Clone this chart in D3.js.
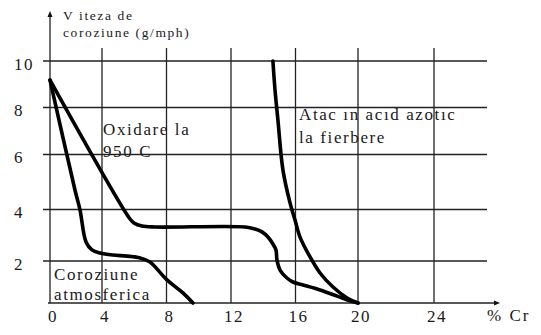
<!DOCTYPE html>
<html>
<head>
<meta charset="utf-8">
<script src="https://cdn.jsdelivr.net/npm/d3@7"></script>
<style>
  html, body { margin: 0; padding: 0; background: #fff; }
  svg { display: block; }
</style>
</head>
<body>
<svg id="chart" width="541" height="335"></svg>
<script>
// ---- data ----
const xTicks = [0, 4, 8, 12, 16, 20, 24];
const yTicks = [2, 4, 6, 8, 10];
const xLabels = ["0", "4", "8", "12", "16", "20", "24"];
const yLabels = ["2", "4", "6", "8", "10"];

// Oxidare la 950 C
const oxidareX = [0, 5.74, 5.98, 6.48, 7.29, 12.87, 13.49, 13.92, 14.29, 14.60, 14.79, 14.85, 15.04, 15.47, 15.84, 16.48, 17.57, 18.66, 19.49, 20];
const oxidareY = [9.18, 3.63, 3.48, 3.36, 3.32, 3.32, 3.24, 3.13, 2.93, 2.66, 2.43, 2.04, 1.57, 1.19, 1.0, 0.86, 0.62, 0.33, 0.10, 0];

// Coroziune atmosferica
const atmX = [0, 1.92, 2.31, 2.77, 3.23, 3.85, 4.68, 5.55, 6.36, 6.98, 7.41, 8.03, 9.02, 9.64];
const atmY = [9.18, 4.71, 3.98, 2.74, 2.43, 2.31, 2.23, 2.19, 2.12, 1.95, 1.62, 1.10, 0.48, 0];

// Atac in acid azotic la fierbere
const acidX = [14.60, 14.73, 14.91, 15.22, 15.66, 15.97, 16.29, 16.93, 17.57, 18.40, 19.30, 20];
const acidY = [10, 8.75, 7.47, 5.44, 4.24, 3.59, 2.93, 2.16, 1.43, 0.76, 0.24, 0];

const yTitle = ["V iteza de", "coroziune (g/mph)"];
const xTitle = "% Cr";
const labelOx = ["Oxidare la", "950 C"];
const labelAcid = ["Atac ın acıd azotıc", "la fierbere"];
const labelAtm = ["Coroziune", "atmosferica"];

// ---- layout ----
const FONT = "'Liberation Serif', 'Times New Roman', Times, 'DejaVu Serif', serif";
const svg = d3.select("#chart");
// hand-drawn original has uneven grid spacing: piecewise linear scales
const x = d3.scaleLinear().domain(xTicks).range([50, 102, 166.5, 231, 295.5, 358, 434]);
const y = d3.scaleLinear().domain([0, 2, 4, 6, 8, 10]).range([303, 261, 209.5, 154.5, 107.5, 61]);

const gridColor = "#222";
const gridW = 1.3;
const gridLeft = 43, gridRight = 487, gridTop = 48;

// horizontal grid
svg.append("g").selectAll("line").data(yTicks).join("line")
  .attr("x1", gridLeft).attr("x2", gridRight)
  .attr("y1", d => y(d)).attr("y2", d => y(d))
  .attr("stroke", gridColor).attr("stroke-width", gridW);

// vertical grid
svg.append("g").selectAll("line").data(xTicks.slice(1)).join("line")
  .attr("x1", d => x(d)).attr("x2", d => x(d))
  .attr("y1", gridTop).attr("y2", y(0))
  .attr("stroke", gridColor).attr("stroke-width", gridW);

// axes
svg.append("line").attr("x1", x(0)).attr("x2", x(0)).attr("y1", y(0)).attr("y2", 14)
  .attr("stroke", gridColor).attr("stroke-width", gridW);
svg.append("line").attr("x1", x(0) - 2).attr("x2", 497).attr("y1", y(0)).attr("y2", y(0))
  .attr("stroke", gridColor).attr("stroke-width", gridW);
// arrowheads
svg.append("path").attr("d", `M${x(0)},11 L${x(0) - 2.5},17 L${x(0) + 2.5},17 Z`).attr("fill", "#111");
svg.append("path").attr("d", `M500,${y(0)} L494,${y(0) - 2.5} L494,${y(0) + 2.5} Z`).attr("fill", "#111");

const T = sel => sel.attr("font-family", FONT).attr("fill", "#1a1a1a");

// y tick labels
svg.append("g").selectAll("text").data(yTicks).join("text")
  .call(T)
  .attr("x", 14).attr("y", d => y(d) + 3)
  .attr("dominant-baseline", "central")
  .attr("font-size", 17).attr("letter-spacing", 1.5)
  .text((d, i) => yLabels[i]);

// x tick labels
svg.append("g").selectAll("text").data(xTicks).join("text")
  .call(T)
  .attr("x", d => x(d) + 3).attr("y", 322)
  .attr("text-anchor", "middle")
  .attr("font-size", 17).attr("letter-spacing", 1.5)
  .text((d, i) => xLabels[i]);

svg.append("text").call(T).attr("x", 487).attr("y", 321)
  .attr("font-size", 17).attr("letter-spacing", 2).text(xTitle);

// y title
svg.append("g").selectAll("text").data(yTitle).join("text")
  .call(T)
  .attr("x", 63).attr("y", (d, i) => 20 + i * 17)
  .attr("font-size", 13.5).attr("letter-spacing", 1.6)
  .text(d => d);

// curves
const line = d3.line().x(d => x(d[0])).y(d => y(d[1])).curve(d3.curveCatmullRom.alpha(0.5));
const series = [
  d3.zip(oxidareX, oxidareY),
  d3.zip(atmX, atmY),
  d3.zip(acidX, acidY)
];
svg.append("g").selectAll("path").data(series).join("path")
  .attr("d", line)
  .attr("fill", "none").attr("stroke", "#000").attr("stroke-width", 3.6)
  .attr("stroke-linejoin", "round").attr("stroke-linecap", "round");

// annotations
function block(lines, x0, y0, dy) {
  svg.append("g").selectAll("text").data(lines).join("text")
    .call(T)
    .attr("x", x0).attr("y", (d, i) => y0 + i * dy)
    .attr("font-size", 17).attr("letter-spacing", 1.6)
    .text(d => d);
}
block(labelOx, 103, 135, 22);
block(labelAcid, 299, 120, 23);
block(labelAtm, 54, 280, 20);
</script>
</body>
</html>
